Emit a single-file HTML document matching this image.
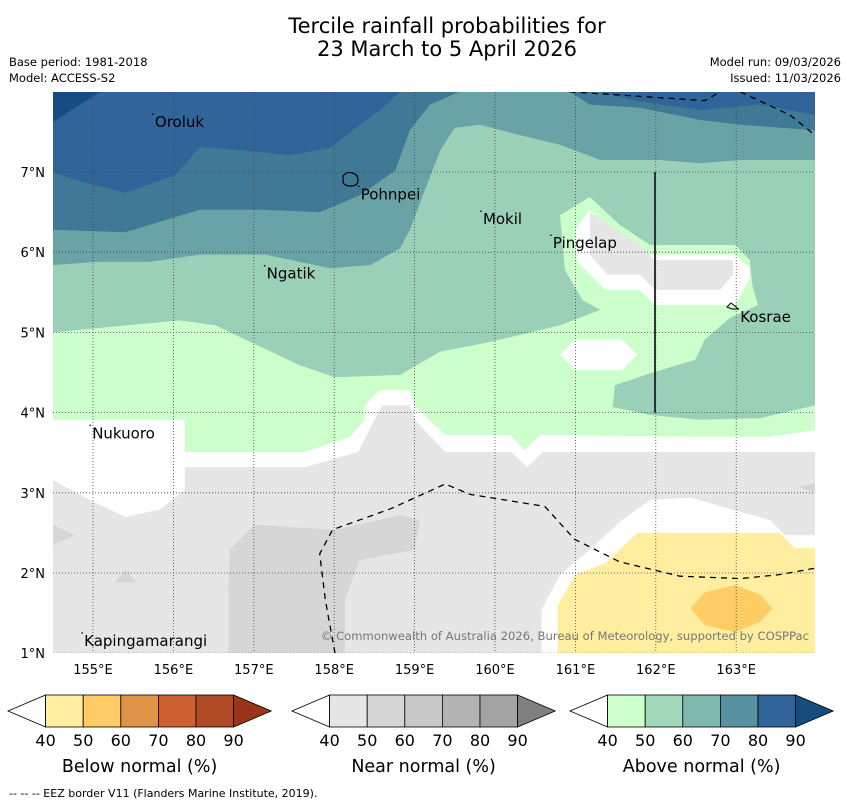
<!DOCTYPE html>
<html><head><meta charset="utf-8"><style>
body{margin:0;background:#fff;}
svg{display:block;font-family:"DejaVu Sans","Liberation Sans",sans-serif;}
</style></head><body>
<svg id="chart" width="850" height="804" viewBox="0 0 850 804" xmlns="http://www.w3.org/2000/svg">
<text x="447" y="33" font-size="21" text-anchor="middle">Tercile rainfall probabilities for</text>
<text x="447" y="56" font-size="21" text-anchor="middle">23 March to 5 April 2026</text>
<text x="9" y="66" font-size="11.5">Base period: 1981-2018</text>
<text x="9" y="82" font-size="11.5">Model: ACCESS-S2</text>
<text x="841" y="66" font-size="11.5" text-anchor="end">Model run: 09/03/2026</text>
<text x="841" y="82" font-size="11.5" text-anchor="end">Issued: 11/03/2026</text>
<defs><clipPath id="mapclip"><rect x="53" y="92" width="762" height="561"/></clipPath></defs>
<g id="map" clip-path="url(#mapclip)"></g>
<g id="axes"></g>
<g id="bars"></g>
<text x="9" y="797" font-size="11">--  --  -- EEZ border V11 (Flanders Marine Institute, 2019).</text>
</svg>
<script>
const lonTicks=[155,156,157,158,159,160,161,162,163];
const latTicks=[1,2,3,4,5,6,7];
const regionColors=["#e6e6e6","#ffffff","#ccffcc","#9bd0b8","#6aa3a5","#3f7995","#31659a","#164c84"];
const whiteZone=[[154.5,8],[163.98,8],[163.98,3.51],[160.6,3.51],[160.4,3.32],[160.2,3.51],[159.38,3.51],[159.0,3.91],[158.94,4.09],[158.6,4.09],[158.5,3.91],[158.3,3.51],[157.64,3.32],[156.14,3.32],[156.14,3.03],[155.83,2.79],[155.4,2.70],[154.96,2.91],[154.5,3.16]];
const greenLow=[[154.5,8],[163.98,8],[163.98,3.78],[163.42,3.70],[162.55,3.70],[160.56,3.72],[160.37,3.53],[160.19,3.72],[159.38,3.72],[159.0,4.09],[158.94,4.28],[158.57,4.28],[158.38,4.09],[158.38,3.91],[158.2,3.70],[157.64,3.51],[156.14,3.51],[156.14,3.91],[154.5,3.91]];
const greenMid=[[154.5,8],[154.5,5.0],[156.08,5.15],[156.52,5.09],[157.57,4.59],[158.01,4.44],[158.82,4.47],[159.32,4.76],[159.94,4.88],[160.81,5.09],[161.31,5.28],[161.46,4.07],[161.93,3.97],[162.55,3.91],[163.3,3.93],[163.98,4.09],[163.98,8]];
const tealMid=[[154.5,8],[154.5,5.84],[155.09,5.88],[155.71,5.88],[156.33,5.97],[157.14,5.97],[157.95,5.80],[158.45,5.84],[158.82,6.05],[158.94,6.28],[159.13,6.78],[159.32,7.27],[159.5,7.55],[159.81,7.59],[160.31,7.46],[160.81,7.34],[161.31,7.15],[162.05,7.15],[162.55,7.11],[163.05,7.15],[163.98,7.15],[163.98,8]];
const tealHighW=[[154.5,8],[154.5,6.28],[155.4,6.25],[156.33,6.53],[157.08,6.53],[157.82,6.5],[158.32,6.71],[158.76,7.02],[158.94,7.52],[159.19,7.84],[159.56,8]];
const tealHighE=[[160.93,8],[161.18,7.84],[161.8,7.8],[162.55,7.65],[163.05,7.59],[163.98,7.52],[163.98,8]];
const blueW=[[154.5,8],[154.5,7.0],[154.78,6.9],[155.4,6.74],[156.02,6.96],[156.33,7.31],[156.83,7.27],[157.45,7.21],[157.95,7.3],[158.32,7.59],[158.57,7.77],[158.82,8]];
const blueE=[[161.31,8],[161.68,7.9],[162.55,7.77],[163.3,7.84],[163.98,7.71],[163.98,8]];
const darkBlue=[[154.5,8],[155.09,8],[154.7,7.75],[154.5,7.62]];
const pocketGreen=[[160.81,6.46],[161.18,6.69],[161.55,6.34],[161.93,6.09],[162.99,6.09],[163.17,5.9],[163.2,5.59],[163.27,5.34],[162.92,5.18],[162.61,4.91],[162.49,4.66],[161.93,4.49],[161.49,4.34],[161.46,4.03],[160.81,4.03],[160.81,4.97],[161.31,5.28],[161.09,5.4],[160.87,5.78]];
const pocketWhite=[[161.18,6.53],[161.55,6.15],[161.8,5.97],[162.99,5.97],[163.17,5.8],[163.17,5.68],[162.99,5.34],[161.99,5.34],[161.8,5.53],[161.37,5.53],[161.02,5.88],[161.0,6.28]];
const pocketGrey=[[161.18,6.5],[161.18,5.97],[161.4,5.72],[161.8,5.72],[161.99,5.53],[162.8,5.53],[162.96,5.72],[162.96,5.9],[161.99,5.9],[161.8,6.09]];
const blobWhite=[[160.81,4.72],[161.0,4.91],[161.58,4.91],[161.77,4.72],[161.58,4.53],[161.0,4.53]];
const greyMid=[[156.7,2.29],[157.01,2.6],[158.01,2.54],[158.82,2.72],[159.07,2.66],[159.0,2.29],[158.32,2.16],[158.13,1.66],[158.13,1.0],[156.68,1.0],[156.68,1.79]];
const greySmallA=[[154.5,2.6],[154.78,2.47],[154.5,2.35]];
const greySmallB=[[155.27,1.88],[155.4,2.04],[155.55,1.88]];
const greySmallC=[[163.79,3.07],[163.98,3.13],[163.98,3.0]];
const yellowWhite=[[160.58,1.0],[160.58,1.54],[160.81,1.98],[161.18,2.29],[161.58,2.66],[161.93,2.91],[162.43,2.94],[163.42,2.66],[163.61,2.47],[163.98,2.47],[163.98,1.0]];
const yellowLow=[[160.78,1.0],[160.78,1.6],[161.0,1.98],[161.37,2.12],[161.77,2.5],[163.54,2.5],[163.73,2.31],[163.98,2.31],[163.98,1.0]];
const orangeMid=[[162.43,1.56],[162.61,1.76],[162.99,1.85],[163.3,1.73],[163.45,1.56],[163.3,1.39],[162.99,1.26],[162.61,1.35]];
const eezSouth=[[158.01,1.0],[157.89,1.66],[157.82,2.24],[157.98,2.54],[158.7,2.8],[159.38,3.11],[159.69,2.98],[160.62,2.83],[160.99,2.42],[161.55,2.14],[162.3,1.96],[163.05,1.93],[163.54,1.98],[163.98,2.06]];
const eezNorthA=[[160.93,8.0],[162.61,7.89],[162.8,8.0]];
const eezNorthB=[[163.05,8.0],[163.67,7.71],[163.98,7.46]];
const boundary=[[161.99,7.0],[161.99,4.0]];
const islandNames=["Oroluk","Pohnpei","Mokil","Pingelap","Ngatik","Kosrae","Nukuoro","Kapingamarangi"];
const islandLon=[155.77,158.33,159.85,160.72,157.16,163.05,154.99,154.89];
const islandLat=[7.56,6.66,6.35,6.05,5.67,5.13,3.68,1.09];
const belowLabels=["40","50","60","70","80","90"];
const belowColors=["#ffffff","#ffeea0","#ffcc66","#e09448","#cc6030","#b04a24","#9a3418"];
const nearColors=["#ffffff","#e6e6e6","#d6d6d6","#c8c8c8","#b3b3b3","#a3a3a3","#808080"];
const aboveColors=["#ffffff","#ccffcc","#a3d9bb","#80b8ad","#5a91a0","#31659a","#164c80"];

const NS="http://www.w3.org/2000/svg";
function lonX(l){return 93+(l-155)*80.4;}
function latY(l){return 172-(l-7)*80.2;}
function mk(tag,attrs,parent){const e=document.createElementNS(NS,tag);for(const k in attrs)e.setAttribute(k,attrs[k]);parent.appendChild(e);return e;}
function pts(a){return a.map(p=>lonX(p[0]).toFixed(1)+","+latY(p[1]).toFixed(1)).join(" ");}
const map=document.getElementById("map");
const bg=mk("rect",{x:53,y:92,width:762,height:561,fill:regionColors[0]},map);


const layers=[[whiteZone,"#ffffff","no-signal-zone"],[greenLow,regionColors[2],"above-40-50"],[greenMid,regionColors[3],"above-50-60"],[tealMid,regionColors[4],"above-60-70"],[tealHighW,regionColors[5],"above-70-80-west"],[tealHighE,regionColors[5],"above-70-80-east"],[blueW,regionColors[6],"above-80-90-west"],[blueE,regionColors[6],"above-80-90-east"],[darkBlue,regionColors[7],"above-90-plus"],[pocketGreen,regionColors[2],"above-40-50-pocket"],[pocketWhite,"#ffffff","no-signal-pocket"],[pocketGrey,regionColors[0],"near-40-50-pocket"],[blobWhite,"#ffffff","no-signal-blob"],[greyMid,"#d6d6d6","near-50-60"],[greySmallA,"#d6d6d6","near-50-60-a"],[greySmallB,"#d6d6d6","near-50-60-b"],[greySmallC,"#d6d6d6","near-50-60-c"],[yellowWhite,"#ffffff","no-signal-south"],[yellowLow,"#ffeea0","below-40-50"],[orangeMid,"#ffcc66","below-50-60"]];
layers.forEach(L=>{const p=mk("polygon",{points:pts(L[0]),fill:L[1]},map);

});
const grid=mk("g",{},map);


lonTicks.forEach(t=>mk("line",{x1:lonX(t),x2:lonX(t),y1:92,y2:653,stroke:"#444","stroke-width":0.8,"stroke-dasharray":"1,2"},grid));
latTicks.forEach(t=>mk("line",{x1:53,x2:815,y1:latY(t),y2:latY(t),stroke:"#444","stroke-width":0.8,"stroke-dasharray":"1,2"},grid));
[[eezSouth,"eez-south"],[eezNorthA,"eez-north-a"],[eezNorthB,"eez-north-b"]].forEach(E=>{const l=mk("polyline",{points:pts(E[0]),fill:"none",stroke:"#000","stroke-width":1.3,"stroke-dasharray":"6,5"},map);

});
const bl=mk("polyline",{points:pts(boundary),fill:"none",stroke:"#222","stroke-width":1.8},map);


const pi=mk("path",{d:"M343,176 q4,-5 9,-3 q6,1 6,7 q0,6 -7,6 q-8,0 -8,-5z",fill:"none",stroke:"#000","stroke-width":1.2},map);


const ki=mk("path",{d:"M727,307 l4,-4 l4,3 l3,3 l-6,0z",fill:"none",stroke:"#000","stroke-width":1},map);


islandNames.forEach((n,i)=>{const x=lonX(islandLon[i]),y=latY(islandLat[i]);
const d=mk("circle",{cx:x-2,cy:y-13,r:0.8,fill:"#000"},map);


const t=mk("text",{x:x,y:y,"font-size":15,fill:"#000"},map);t.textContent=n;

});
const cp=mk("text",{x:809,y:640,"font-size":11.6,fill:"#777","text-anchor":"end"},map);
cp.textContent="© Commonwealth of Australia 2026, Bureau of Meteorology, supported by COSPPac";


const axes=document.getElementById("axes");
lonTicks.forEach(t=>{const e=mk("text",{x:lonX(t),y:674,"font-size":13,"text-anchor":"middle"},axes);e.textContent=t+"°E";

});
latTicks.forEach(t=>{const e=mk("text",{x:45,y:latY(t)+5,"font-size":13,"text-anchor":"end"},axes);e.textContent=t+"°N";

});
const bars=document.getElementById("bars");
function colorbar(x0,colors,title,name){
const w=37.6,y=695,h=32;const g=mk("g",{},bars);


mk("polygon",{points:`${x0},${y+h/2} ${x0+w},${y} ${x0+w},${y+h}`,fill:colors[0],stroke:"#000","stroke-width":0.8},g);
for(let i=1;i<=5;i++)mk("rect",{x:x0+w*i,y:y,width:w,height:h,fill:colors[i],stroke:"#000","stroke-width":0.8},g);
mk("polygon",{points:`${x0+w*6},${y} ${x0+w*7},${y+h/2} ${x0+w*6},${y+h}`,fill:colors[6],stroke:"#000","stroke-width":0.8},g);
belowLabels.forEach((l,i)=>{const t=mk("text",{x:x0+w*(i+1),y:746,"font-size":16,"text-anchor":"middle"},g);t.textContent=l;

});
const tt=mk("text",{x:x0+w*3.5,y:772,"font-size":17.5,"text-anchor":"middle"},g);tt.textContent=title;

}
colorbar(8,belowColors,"Below normal (%)","below-normal-colorbar");
colorbar(292,nearColors,"Near normal (%)","near-normal-colorbar");
colorbar(570,aboveColors,"Above normal (%)","above-normal-colorbar");
</script>
</body></html>
